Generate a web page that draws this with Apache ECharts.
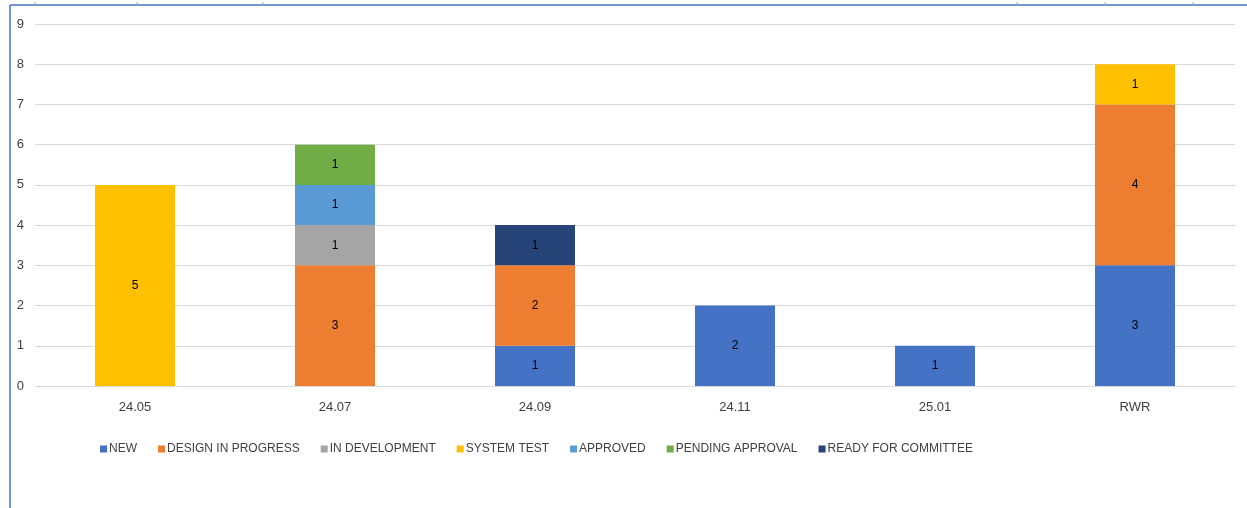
<!DOCTYPE html>
<html><head><meta charset="utf-8">
<script src="https://cdn.jsdelivr.net/npm/echarts@6/dist/echarts.min.js"></script>
<style>html,body{margin:0;padding:0;background:#fff}#c{width:1247px;height:508px}</style>
</head><body><div id="c"></div>
<script>
const categories = ['24.05','24.07','24.09','24.11','25.01','RWR'];
const seriesNames = ['NEW','DESIGN IN PROGRESS','IN DEVELOPMENT','SYSTEM TEST','APPROVED','PENDING APPROVAL','READY FOR COMMITTEE'];
const newVals = [0,0,1,2,1,3];
const designVals = [0,3,2,0,0,4];
const devVals = [0,1,0,0,0,0];
const sysTestVals = [5,0,0,0,0,1];
const approvedVals = [0,1,0,0,0,0];
const pendingVals = [0,1,0,0,0,0];
const readyVals = [0,0,1,0,0,0];
const colors = ['#4472C4','#ED7D31','#A5A5A5','#FFC000','#5B9BD5','#70AD47','#264478'];
const allVals = [newVals,designVals,devVals,sysTestVals,approvedVals,pendingVals,readyVals];
const font = 'Liberation Sans, Arial, sans-serif';

const chart = echarts.init(document.getElementById('c'));
chart.setOption({
  animation:false,
  color:colors,
  grid:{left:35,right:12,top:24,bottom:122,containLabel:false},
  legend:{
    left:95, top:438, itemWidth:7, itemHeight:7, itemGap:21,
    icon:'rect',
    textStyle:{color:'#404040',fontSize:12,fontFamily:font,padding:[0,0,0,-3]},
    data:seriesNames
  },
  xAxis:{type:'category',data:categories,
    axisLine:{show:false},axisTick:{show:false},
    axisLabel:{color:'#404040',fontSize:13,fontFamily:font,margin:15}},
  yAxis:{type:'value',min:0,max:9,interval:1,
    axisLine:{show:false},axisTick:{show:false},
    axisLabel:{color:'#404040',fontSize:13,fontFamily:font,margin:11},
    splitLine:{lineStyle:{color:'#d9d9d9',width:1}}},
  series: seriesNames.map((n,i)=>({
    name:n,type:'bar',stack:'s',barWidth:80,data:allVals[i],
    label:{show:true,position:'inside',color:'#000',fontSize:12,fontFamily:font,
      formatter:p=>p.value? String(p.value):''}
  })),
  graphic:[
    {type:'line',shape:{x1:10,y1:5,x2:1247,y2:5},style:{stroke:'#4472C4',lineWidth:1.5},silent:true},
    {type:'line',shape:{x1:10,y1:5,x2:10,y2:508},style:{stroke:'#4472C4',lineWidth:1.5},silent:true},
    {type:'line',shape:{x1:35,y1:2,x2:35,y2:5},style:{stroke:'#aaa',lineWidth:1},silent:true},
    {type:'line',shape:{x1:137,y1:2,x2:137,y2:5},style:{stroke:'#aaa',lineWidth:1},silent:true},
    {type:'line',shape:{x1:263,y1:2,x2:263,y2:5},style:{stroke:'#aaa',lineWidth:1},silent:true},
    {type:'line',shape:{x1:1017,y1:2,x2:1017,y2:5},style:{stroke:'#aaa',lineWidth:1},silent:true},
    {type:'line',shape:{x1:1105,y1:2,x2:1105,y2:5},style:{stroke:'#aaa',lineWidth:1},silent:true},
    {type:'line',shape:{x1:1193,y1:2,x2:1193,y2:5},style:{stroke:'#aaa',lineWidth:1},silent:true}
  ]
});
</script></body></html>
